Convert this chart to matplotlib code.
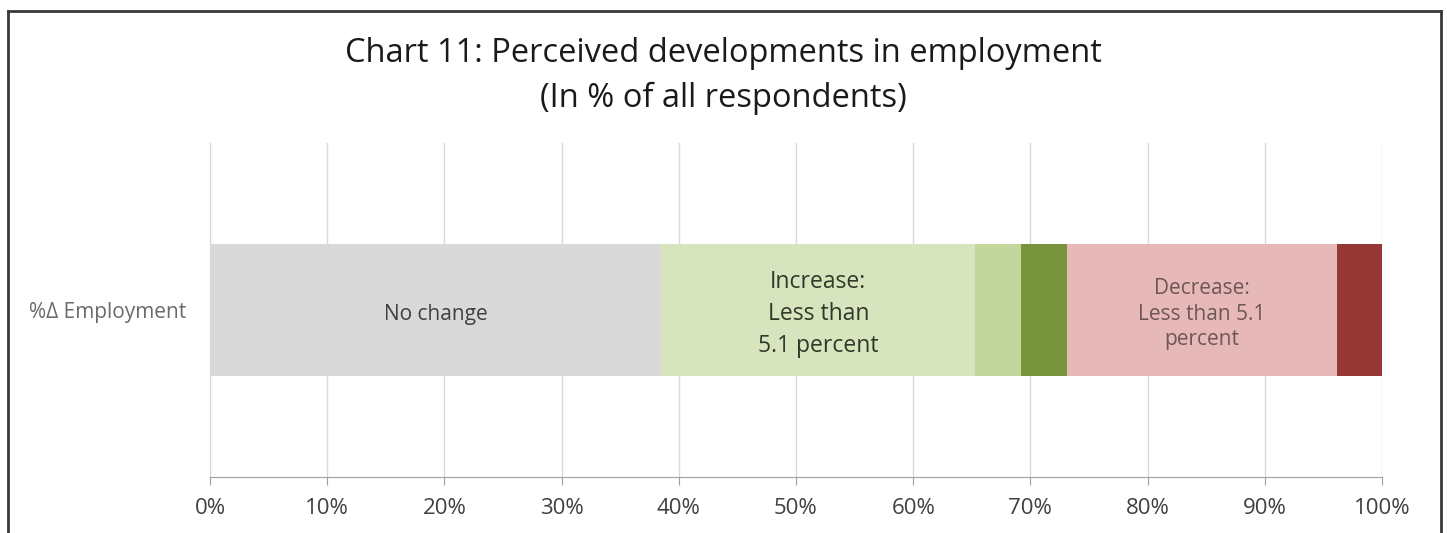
import matplotlib.pyplot as plt
from matplotlib.lines import Line2D

# data
category = "%\u0394 Employment"
segment_values = [38.5, 26.8, 3.9, 3.9, 23.1, 3.8]
segment_colors = ["#d9d9d9", "#d7e4bd", "#c3d69b", "#77933c", "#e6b9b8", "#953735"]
segment_labels = ["No change", "Increase:\nLess than\n5.1 percent", "", "", "Decrease:\nLess than 5.1\npercent", ""]
label_colors = ["#404040", "#303828", None, None, "#6e5556", None]
label_sizes = [15, 16.5, None, None, 15, None]
label_spacing = [1.4, 1.45, None, None, 1.3, None]
ticks = list(range(0, 101, 10))

plt.rcParams['font.family'] = ['Open Sans', 'DejaVu Sans']

fig = plt.figure(figsize=(14.47, 5.33), dpi=100)
ax = fig.add_axes([0.1451, 0.105, 0.81, 0.6267])

left = 0
for val, col, lab, lc, ls, sp in zip(segment_values, segment_colors, segment_labels,
                                     label_colors, label_sizes, label_spacing):
    ax.barh(0, val, left=left, height=0.395, color=col, zorder=2)
    if lab:
        ax.text(left + val / 2, -0.012, lab, ha='center', va='center', color=lc,
                fontsize=ls, linespacing=sp, zorder=3)
    left += val

ax.set_xlim(0, 100)
ax.set_ylim(-0.5, 0.5)
ax.set_xticks(ticks)
ax.set_xticklabels([f"{t}%" for t in ticks], fontsize=16, color="#404040")
ax.set_yticks([0])
ax.set_yticklabels([category], fontsize=15, color="#6b6b6b")
ax.tick_params(axis='y', length=0, pad=17)
ax.tick_params(axis='x', direction='out', length=6, color="#a0a0a0", pad=9)
ax.grid(axis='x', color="#d9d9d9", linewidth=1, zorder=0)
for s in ['top', 'right']:
    ax.spines[s].set_visible(False)
ax.spines['left'].set_color("#d9d9d9")
ax.spines['bottom'].set_color("#a0a0a0")

fig.text(0.5, 0.90, "Chart 11: Perceived developments in employment", ha='center', va='center',
         fontsize=23.5, color="#1a1a1a")
fig.text(0.5, 0.816, "(In % of all respondents)", ha='center', va='center',
         fontsize=23.5, color="#1a1a1a")

# outer frame (cut off at the bottom)
x0, x1, ytop = 7.5 / 1447, 1441 / 1447, 1 - 11 / 533
frame = dict(color="#3a3a3a", linewidth=2, transform=fig.transFigure)
fig.add_artist(Line2D([x0, x0], [0, ytop], **frame))
fig.add_artist(Line2D([x0, x1], [ytop, ytop], **frame))
fig.add_artist(Line2D([x1, x1], [0, ytop], **frame))

fig.savefig("out.png", dpi=100)
